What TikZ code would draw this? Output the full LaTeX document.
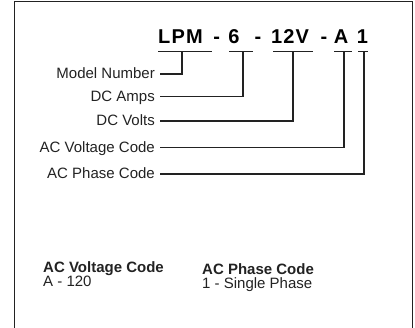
\documentclass[tikz,border=0pt]{standalone}
\usepackage{fontspec}
\setmainfont{Liberation Sans}
\newfontfamily\titlefont[LetterSpace=6]{Liberation Sans Bold}
\definecolor{ink}{HTML}{222222}
\begin{document}
\begin{tikzpicture}[x=1pt,y=1pt,
  ttl/.style={inner sep=0pt,anchor=base,font=\titlefont\fontsize{20}{20}\selectfont,text=black},
  lbl/.style={inner sep=0pt,anchor=base east,font=\fontsize{15}{15}\selectfont,text=ink},
  hd/.style={inner sep=0pt,anchor=base west,font=\bfseries\fontsize{15}{15}\selectfont,text=ink},
  val/.style={inner sep=0pt,anchor=base west,font=\fontsize{15}{15}\selectfont,text=ink},
  ln/.style={draw=ink,line width=1.2pt}]
\useasboundingbox (0,0) rectangle (415,-328);
\draw[ln] (14.5,-340) -- (14.5,-1.6) -- (412.4,-1.6) -- (412.4,-340);
% title
\node[ttl] (t1) at (180.5,-43.5) {LPM};
\node[ttl] (d1) at (216.7,-43.5) {-};
\node[ttl] (t2) at (234,-43.5) {6};
\node[ttl] (d2) at (258,-43.5) {-};
\node[ttl] (t3) at (290,-43.5) {12V};
\node[ttl] (d3) at (324,-43.5) {-};
\node[ttl] (t4) at (341,-43.5) {A};
\node[ttl] (t5) at (362.5,-43.5) {1};
% underlines
\coordinate (u1a) at (158,-51.7); \coordinate (u1b) at (212,-51.7); \coordinate (v1) at (182,-51.7);
\coordinate (u2a) at (229,-51.7); \coordinate (u2b) at (253,-51.7); \coordinate (v2) at (243,-51.7);
\coordinate (u3a) at (273,-51.7); \coordinate (u3b) at (313,-51.7); \coordinate (v3) at (293,-51.7);
\coordinate (u4a) at (334,-51.7); \coordinate (u4b) at (352,-51.7); \coordinate (v4) at (344,-51.7);
\coordinate (u5a) at (358,-51.7); \coordinate (u5b) at (368,-51.7); \coordinate (v5) at (364,-51.7);
\foreach \i in {1,...,5} {\draw[ln] (u\i a) -- (u\i b);}
% labels
\node[lbl] (l1) at (155,-79) {Model Number};
\node[lbl] (l2) at (155,-101.5) {DC Amps};
\node[lbl] (l3) at (155,-125.7) {DC Volts};
\node[lbl] (l4) at (155,-152.2) {AC Voltage Code};
\node[lbl] (l5) at (155,-178.5) {AC Phase Code};
\coordinate (s1) at (160,-74);
\coordinate (s2) at (160,-96.5);
\coordinate (s3) at (160,-121);
\coordinate (s4) at (160,-147.5);
\coordinate (s5) at (160,-174);
\foreach \i in {1,...,5} {\draw[ln] (s\i) -| (v\i);}
% legend
\node[hd] (h1) at (43,-272.5) {AC Voltage Code};
\node[val] (a1) at (43,-287) {A - 120};
\node[hd] (h2) at (202,-274.5) {AC Phase Code};
\node[val] (a2) at (202,-289) {1 - Single Phase};
\end{tikzpicture}
\end{document}
